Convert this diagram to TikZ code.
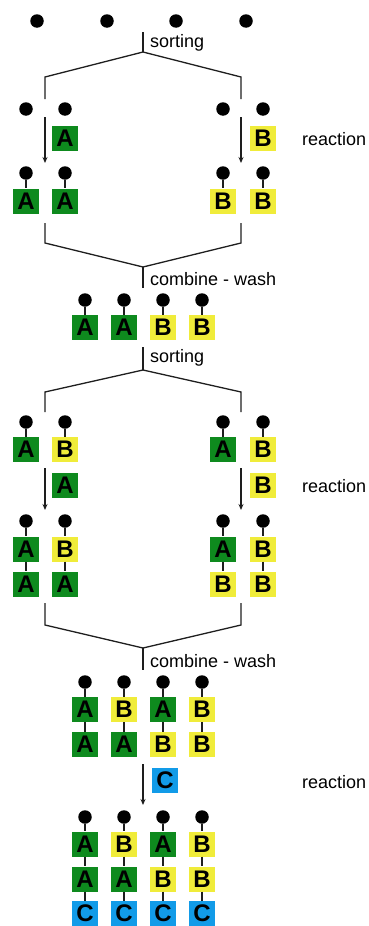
\documentclass[tikz,border=0pt]{standalone}
\usepackage{fontspec}
\setmainfont{Liberation Sans}
\usetikzlibrary{arrows.meta}
\definecolor{colA}{RGB}{14,138,30}
\definecolor{colB}{RGB}{240,236,58}
\definecolor{colC}{RGB}{18,155,232}
\definecolor{lncol}{RGB}{30,30,30}
\tikzset{
  dot/.style={circle,fill=black,minimum size=13.5pt,inner sep=0pt},
  box/.style={fill=col#1,minimum width=26pt,minimum height=25pt,inner sep=0pt,
    font=\fontsize{24}{24}\selectfont\bfseries},
  lbl/.style={anchor=west,inner sep=0pt,font=\fontsize{18}{18}\selectfont},
  ln/.style={draw=lncol,line width=1.3pt},
  arr/.style={draw=lncol,line width=1.3pt,-{Stealth[length=6pt,width=5pt]}},
}
\begin{document}
\begin{tikzpicture}[x=1pt,y=-1pt]
\useasboundingbox (0,0) rectangle (369,926);
% row 1
\foreach \x/\i in {37/1,107/2,176/3,246/4} \node[dot] (t\i) at (\x,21) {};
% sorting 1
\coordinate (s1a) at (143,32); \coordinate (s1b) at (143,52);
\coordinate (s1l) at (45,77); \coordinate (s1r) at (241,77);
\coordinate (s1le) at (45,99); \coordinate (s1re) at (241,99);
\draw[ln] (s1a) -- (s1b);
\draw[ln] (s1le) -- (s1l) -- (s1b) -- (s1r) -- (s1re);
\node[lbl] (lsort1) at (150,43) {sorting};
% row 2
\foreach \x/\i in {26/1,65/2,223/3,263/4} \node[dot] (r2d\i) at (\x,109) {};
\node[box=A] (g1) at (65,138) {A};
\node[box=B] (g2) at (263,138) {B};
\node[lbl] (lr1) at (302,139) {reaction};
\coordinate (a1s) at (45,117); \coordinate (a1e) at (45,163);
\coordinate (a2s) at (241,117); \coordinate (a2e) at (241,163);
\draw[arr] (a1s) -- (a1e);
\draw[arr] (a2s) -- (a2e);
% row 3
\foreach \x/\i/\p in {26/1/A,65/2/A,223/3/B,263/4/B}{
  \node[dot] (r3d\i) at (\x,173) {};
  \node[box=\p] (r3a\i) at (\x,201) {\p};
  \draw[ln] (r3d\i) -- (r3a\i);
}
% combine 1
\coordinate (c1l0) at (45,223); \coordinate (c1l) at (45,243);
\coordinate (c1r0) at (241,223); \coordinate (c1r) at (241,243);
\coordinate (c1m) at (143,267); \coordinate (c1e) at (143,288);
\draw[ln] (c1l0) -- (c1l) -- (c1m) -- (c1r) -- (c1r0);
\draw[ln] (c1m) -- (c1e);
\node[lbl] (lcw1) at (150,279) {combine - wash};
% row 4
\foreach \x/\i/\p in {85/1/A,124/2/A,163/3/B,202/4/B}{
  \node[dot] (r4d\i) at (\x,300) {};
  \node[box=\p] (r4a\i) at (\x,327.5) {\p};
  \draw[ln] (r4d\i) -- (r4a\i);
}
% sorting 2
\coordinate (s2a) at (143,347); \coordinate (s2b) at (143,370);
\coordinate (s2l) at (45,392); \coordinate (s2r) at (241,392);
\coordinate (s2le) at (45,412); \coordinate (s2re) at (241,412);
\draw[ln] (s2a) -- (s2b);
\draw[ln] (s2le) -- (s2l) -- (s2b) -- (s2r) -- (s2re);
\node[lbl] (lsort2) at (150,358) {sorting};
% row 5
\foreach \x/\i/\p in {26/1/A,65/2/B,223/3/A,263/4/B}{
  \node[dot] (r5d\i) at (\x,422) {};
  \node[box=\p] (r5a\i) at (\x,449.5) {\p};
  \draw[ln] (r5d\i) -- (r5a\i);
}
\node[box=A] (g3) at (65,485.5) {A};
\node[box=B] (g4) at (263,485.5) {B};
\node[lbl] (lr2) at (302,486) {reaction};
\coordinate (a3s) at (45,468); \coordinate (a3e) at (45,510);
\coordinate (a4s) at (241,468); \coordinate (a4e) at (241,510);
\draw[arr] (a3s) -- (a3e);
\draw[arr] (a4s) -- (a4e);
% row 6
\foreach \x/\i/\p/\q in {26/1/A/A,65/2/B/A,223/3/A/B,263/4/B/B}{
  \node[dot] (r6d\i) at (\x,521) {};
  \node[box=\p] (r6a\i) at (\x,549) {\p};
  \node[box=\q] (r6b\i) at (\x,584) {\q};
  \draw[ln] (r6d\i) -- (r6a\i);
  \draw[ln] (r6a\i) -- (r6b\i);
}
% combine 2
\coordinate (c2l0) at (45,603); \coordinate (c2l) at (45,625);
\coordinate (c2r0) at (241,603); \coordinate (c2r) at (241,625);
\coordinate (c2m) at (143,648); \coordinate (c2e) at (143,670);
\draw[ln] (c2l0) -- (c2l) -- (c2m) -- (c2r) -- (c2r0);
\draw[ln] (c2m) -- (c2e);
\node[lbl] (lcw2) at (150,661) {combine - wash};
% row 7
\foreach \x/\i/\p/\q in {85/1/A/A,124/2/B/A,163/3/A/B,202/4/B/B}{
  \node[dot] (r7d\i) at (\x,682) {};
  \node[box=\p] (r7a\i) at (\x,709.5) {\p};
  \node[box=\q] (r7b\i) at (\x,744.5) {\q};
  \draw[ln] (r7d\i) -- (r7a\i);
  \draw[ln] (r7a\i) -- (r7b\i);
}
\node[box=C] (g5) at (165,780.5) {C};
\node[lbl] (lr3) at (302,782) {reaction};
\coordinate (a5s) at (143,764); \coordinate (a5e) at (143,805);
\draw[arr] (a5s) -- (a5e);
% row 8
\foreach \x/\i/\p/\q in {85/1/A/A,124/2/B/A,163/3/A/B,202/4/B/B}{
  \node[dot] (r8d\i) at (\x,817) {};
  \node[box=\p] (r8a\i) at (\x,844) {\p};
  \node[box=\q] (r8b\i) at (\x,879) {\q};
  \node[box=C] (r8c\i) at (\x,913.5) {C};
  \draw[ln] (r8d\i) -- (r8a\i);
  \draw[ln] (r8a\i) -- (r8b\i);
  \draw[ln] (r8b\i) -- (r8c\i);
}
\end{tikzpicture}
\end{document}
